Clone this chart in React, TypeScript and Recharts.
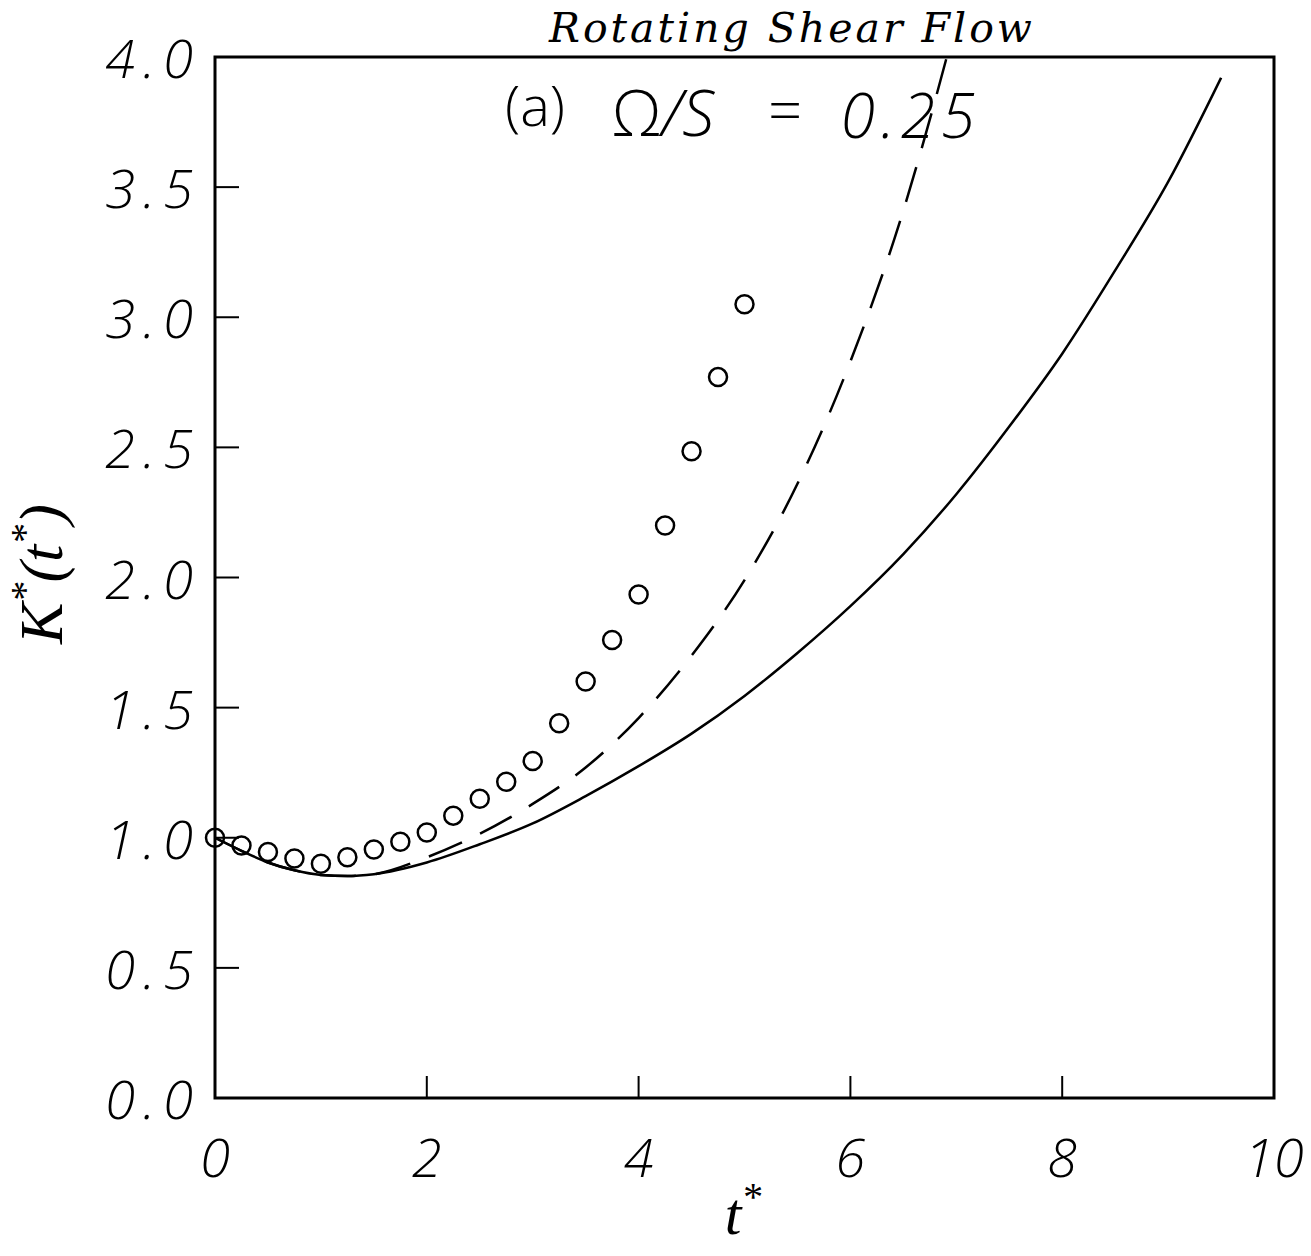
import React from 'react';
import {
  ComposedChart,
  Line,
  Scatter,
  XAxis,
  YAxis,
  ReferenceArea,
} from 'recharts';

// open circles (DNS points)
const circleT = [0, 0.25, 0.5, 0.75, 1.0, 1.25, 1.5, 1.75, 2.0, 2.25, 2.5, 2.75, 3.0, 3.25, 3.5, 3.75, 4.0, 4.25, 4.5, 4.75, 5.0];
const circleK = [1.0, 0.97, 0.945, 0.92, 0.9, 0.925, 0.955, 0.985, 1.02, 1.085, 1.15, 1.215, 1.295, 1.44, 1.6, 1.76, 1.935, 2.2, 2.485, 2.77, 3.05];

// solid curve
const solidT = [0, 0.25, 0.5, 0.75, 1.0, 1.25, 1.5, 2.0, 2.5, 3.0, 3.5, 4.0, 4.5, 5.0, 5.5, 6.0, 6.5, 7.0, 7.5, 8.0, 8.5, 9.0, 9.5];
const solidK = [1.0, 0.95, 0.905, 0.875, 0.857, 0.853, 0.86, 0.905, 0.975, 1.055, 1.16, 1.275, 1.4, 1.545, 1.71, 1.89, 2.09, 2.32, 2.58, 2.86, 3.18, 3.52, 3.92];

// dashed curve
const dashedT = [0, 0.25, 0.5, 0.75, 1.0, 1.25, 1.5, 2.0, 2.5, 3.0, 3.5, 4.0, 4.5, 5.0, 5.5, 6.0, 6.5, 6.75, 6.91];
const dashedK = [1.0, 0.95, 0.905, 0.875, 0.857, 0.853, 0.86, 0.925, 1.015, 1.13, 1.27, 1.46, 1.7, 1.99, 2.36, 2.83, 3.41, 3.76, 4.0];

const xTicks = [0, 2, 4, 6, 8, 10];
const yTicks = [0, 0.5, 1.0, 1.5, 2.0, 2.5, 3.0, 3.5, 4.0];

const circles = circleT.map((t, i) => ({ t, k: circleK[i] }));
const solid = solidT.map((t, i) => ({ t, k: solidK[i] }));
const dashed = dashedT.map((t, i) => ({ t, k: dashedK[i] }));

const tickFont = {
  fontFamily: '"Open Sans", sans-serif',
  fontStyle: 'italic',
  fontWeight: 300,
  fontSize: 54,
};

const XTick = (props: any) => {
  const { x, y, payload } = props;
  return (
    <g>
      <line x1={x} y1={y} x2={x} y2={y - 22} stroke="#000" strokeWidth={2} />
      <text x={x} y={y + 58} textAnchor="middle" dominantBaseline="central" fill="#000" style={tickFont}>
        {payload.value}
      </text>
    </g>
  );
};

const YTick = (props: any) => {
  const { x, y, payload } = props;
  return (
    <g>
      <line x1={x} y1={y} x2={x + 24} y2={y} stroke="#000" strokeWidth={2} />
      <text x={x - 14} y={y} textAnchor="end" dominantBaseline="central" fill="#000" letterSpacing={8} style={tickFont}>
        {Number(payload.value).toFixed(1)}
      </text>
    </g>
  );
};

const Ring = (props: any) => {
  const { cx, cy } = props;
  return <circle cx={cx} cy={cy} r={9} fill="none" stroke="#000" strokeWidth={2.5} />;
};

export default function App() {
  return (
    <div style={{ position: 'relative', width: 1295, height: 1240 }}>
      <ComposedChart
        width={1295}
        height={1240}
        margin={{ top: 49, right: 29, bottom: 0, left: 0 }}
      >
        <XAxis
          type="number"
          dataKey="t"
          domain={[0, 10]}
          ticks={xTicks}
          axisLine={false}
          tickLine={false}
          tickSize={0}
          tickMargin={0}
          height={150}
          tick={<XTick />}
          interval={0}
        />
        <YAxis
          type="number"
          dataKey="k"
          domain={[0, 4]}
          ticks={yTicks}
          axisLine={false}
          tickLine={false}
          tickSize={0}
          tickMargin={0}
          width={207}
          tick={<YTick />}
          interval={0}
        />
        <ReferenceArea x1={0} x2={10} y1={0} y2={4} fill="none" fillOpacity={0} stroke="#000" strokeWidth={3} />
        <Line
          data={solid}
          dataKey="k"
          type="monotone"
          stroke="#000"
          strokeWidth={2.5}
          dot={false}
          isAnimationActive={false}
        />
        <Line
          data={dashed}
          dataKey="k"
          type="monotone"
          stroke="#000"
          strokeWidth={2.5}
          strokeDasharray="36 20"
          dot={false}
          isAnimationActive={false}
        />
        <Scatter data={circles} dataKey="k" shape={<Ring />} isAnimationActive={false} />
      </ComposedChart>
      <svg
        width={1295}
        height={1240}
        style={{ position: 'absolute', left: 0, top: 0, overflow: 'visible', pointerEvents: 'none' }}
      >
        <text x={784} y={34} textAnchor="middle" fill="#000" letterSpacing={3}
          style={{ fontFamily: '"DejaVu Serif", serif', fontStyle: 'italic', fontSize: 41 }}>
          Rotating Shear Flow
        </text>
        <text x={527} y={118} textAnchor="middle" fill="#000"
          style={{ fontFamily: '"Open Sans", sans-serif', fontSize: 56, fontWeight: 300 }}>
          (a)
        </text>
        <text x={655} y={128} textAnchor="middle" fill="#000"
          style={{ fontFamily: '"Open Sans", sans-serif', fontSize: 64, fontWeight: 300 }}>
          Ω<tspan fontStyle="italic">/S</tspan>
        </text>
        <text x={777} y={124} textAnchor="middle" fill="#000"
          style={{ fontFamily: '"Open Sans", sans-serif', fontWeight: 300, fontSize: 60 }}>
          =
        </text>
        <text x={903} y={130} textAnchor="middle" fill="#000" letterSpacing={6}
          style={{ fontFamily: '"Open Sans", sans-serif', fontStyle: 'italic', fontWeight: 300, fontSize: 62 }}>
          0.25
        </text>
        <text x={0} y={0} transform="translate(54 566) rotate(-90)" textAnchor="middle" fill="#000"
          style={{ fontFamily: '"Liberation Serif", serif', fontStyle: 'italic', fontSize: 62 }}>
          K<tspan dy={-24} fontSize={40}>*</tspan><tspan dy={24}>(t</tspan><tspan dy={-24} fontSize={40}>*</tspan><tspan dy={24}>)</tspan>
        </text>
        <text x={735} y={1226} textAnchor="middle" fill="#000"
          style={{ fontFamily: '"Liberation Serif", serif', fontStyle: 'italic', fontSize: 60 }}>
          t<tspan dy={-24} fontSize={40}>*</tspan>
        </text>
      </svg>
    </div>
  );
}
